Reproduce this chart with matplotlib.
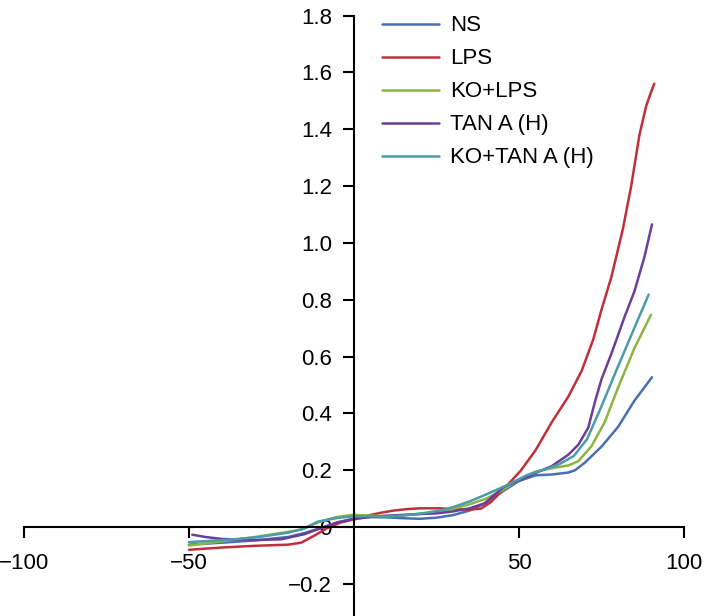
import matplotlib
matplotlib.use("Agg")
import matplotlib.pyplot as plt
import numpy as np

plt.rcParams['font.family'] = ['Liberation Sans', 'DejaVu Sans']

series_names = ["NS", "LPS", "KO+LPS", "TAN A (H)", "KO+TAN A (H)"]
colors = ["#4a6fb0", "#c0303a", "#8cb443", "#6b3f98", "#4c9bab"]

ns_x = [-50, -40, -30, -20, -15, -10, -5, 0, 5, 10, 15, 20, 25, 30, 35, 40, 45, 50, 55, 60, 65, 67, 70, 75, 80, 85, 90.3]
ns_y = [-0.062, -0.055, -0.047, -0.035, -0.021, -0.003, 0.016, 0.03, 0.035, 0.034, 0.031, 0.029, 0.033, 0.042, 0.058, 0.085, 0.125, 0.162, 0.182, 0.185, 0.192, 0.2, 0.227, 0.283, 0.352, 0.445, 0.527]

lps_x = [-50, -40, -30, -20, -16, -12, -8, -4, 0, 4, 8, 12, 16, 20, 26, 30, 35, 38.5, 41.5, 45.5, 50.5, 55, 60, 65, 69, 72.5, 75, 78, 81.5, 84, 86.5, 88.5, 90, 91]
lps_y = [-0.08, -0.072, -0.066, -0.062, -0.055, -0.03, -0.003, 0.016, 0.027, 0.04, 0.05, 0.058, 0.063, 0.066, 0.066, 0.063, 0.061, 0.065, 0.088, 0.135, 0.198, 0.27, 0.37, 0.46, 0.55, 0.66, 0.765, 0.88, 1.05, 1.2, 1.38, 1.48, 1.53, 1.56]

ko_lps_x = [-50, -40, -30, -20, -16, -10, -5, 0, 5, 10, 15, 20, 26, 30, 35, 40, 45, 50, 55, 60, 65, 68, 72, 76, 80, 85, 90]
ko_lps_y = [-0.065, -0.05, -0.035, -0.017, -0.009, 0.02, 0.036, 0.043, 0.04, 0.038, 0.041, 0.046, 0.054, 0.064, 0.08, 0.1, 0.13, 0.168, 0.195, 0.207, 0.217, 0.232, 0.285, 0.37, 0.49, 0.63, 0.747]

tan_x = [-49, -45, -40, -30, -22, -15, -10, -5, 0, 5, 10, 15, 20, 25, 30, 35, 39.5, 45.5, 50, 55, 60, 65, 68, 71, 73, 75, 78, 82, 85, 88, 90.3]
tan_y = [-0.027, -0.035, -0.042, -0.046, -0.043, -0.025, -0.004, 0.017, 0.028, 0.036, 0.04, 0.043, 0.046, 0.048, 0.055, 0.066, 0.083, 0.142, 0.165, 0.19, 0.215, 0.255, 0.29, 0.35, 0.44, 0.52, 0.61, 0.74, 0.83, 0.95, 1.065]

ko_tan_x = [-50, -40, -30, -20, -15, -11, -5, 0, 5, 10, 15, 20, 26.5, 30, 35, 39.5, 46.5, 52.5, 57, 62, 66.6, 70.6, 74.6, 79.6, 85.6, 89.3]
ko_tan_y = [-0.053, -0.046, -0.037, -0.02, -0.005, 0.019, 0.032, 0.038, 0.038, 0.037, 0.041, 0.047, 0.059, 0.07, 0.09, 0.112, 0.148, 0.183, 0.2, 0.22, 0.25, 0.309, 0.414, 0.554, 0.718, 0.818]

x_ticks = [-100, -50, 50, 100]
x_tick_labels = ["\u2212100", "\u221250", "50", "100"]
y_ticks = [-0.2, 0, 0.2, 0.4, 0.6, 0.8, 1.0, 1.2, 1.4, 1.6, 1.8]
y_tick_labels = ["\u22120.2", "0", "0.2", "0.4", "0.6", "0.8", "1.0", "1.2", "1.4", "1.6", "1.8"]

fig = plt.figure(figsize=(7.09, 6.16), dpi=100)
ax = fig.add_axes([24 / 709, 0.0, 660 / 709, (616 - 15.5) / 616])

all_x = [ns_x, lps_x, ko_lps_x, tan_x, ko_tan_x]
all_y = [ns_y, lps_y, ko_lps_y, tan_y, ko_tan_y]
for xs, ys, name, c in zip(all_x, all_y, series_names, colors):
    ax.plot(xs, ys, color=c, lw=1.8, label=name, solid_joinstyle='round',
            solid_capstyle='round')

ax.set_xlim(-100, 100)
ax.set_ylim(-0.313, 1.8)

ax.spines['left'].set_position(('data', 0))
ax.spines['bottom'].set_position(('data', 0))
ax.spines['right'].set_visible(False)
ax.spines['top'].set_visible(False)
for s in ('left', 'bottom'):
    ax.spines[s].set_linewidth(1.5)
    ax.spines[s].set_color('black')

ax.set_xticks(x_ticks)
ax.set_xticklabels(x_tick_labels)
ax.set_yticks(y_ticks)
ax.set_yticklabels(y_tick_labels)
ax.tick_params(axis='x', direction='out', length=8, width=1.5, pad=11, labelsize=16)
ax.tick_params(axis='y', direction='out', length=8, width=1.5, pad=8, labelsize=16)

leg = ax.legend(loc='upper left', bbox_to_anchor=(0.529, 1.015), frameon=False,
                fontsize=16, handlelength=2.57, handletextpad=0.5,
                labelspacing=0.54, borderaxespad=0)
for h in leg.get_lines():
    h.set_linewidth(1.8)

fig.savefig("out.png", dpi=100)
